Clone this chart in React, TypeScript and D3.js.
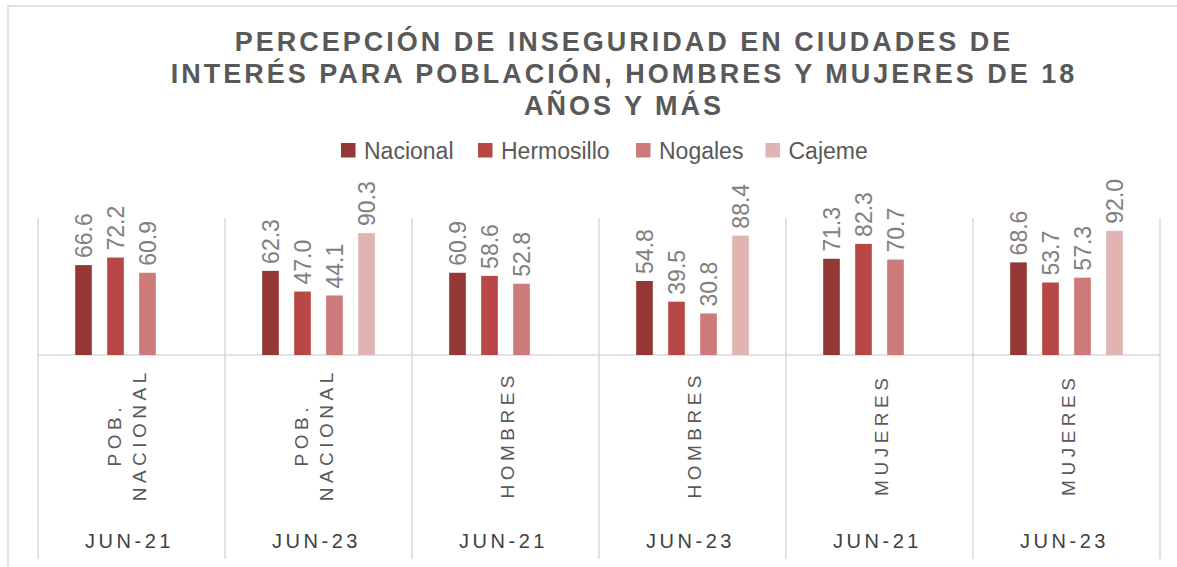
import React from "react";
import * as d3 from "d3";

const groups = ["JUN-21", "JUN-23", "JUN-21", "JUN-23", "JUN-21", "JUN-23"];
const subLabels: string[][] = [
  ["POB.", "NACIONAL"],
  ["POB.", "NACIONAL"],
  ["HOMBRES"],
  ["HOMBRES"],
  ["MUJERES"],
  ["MUJERES"],
];
const seriesNames = ["Nacional", "Hermosillo", "Nogales", "Cajeme"];
const nacional = [66.6, 62.3, 60.9, 54.8, 71.3, 68.6];
const hermosillo = [72.2, 47.0, 58.6, 39.5, 82.3, 53.7];
const nogales = [60.9, 44.1, 52.8, 30.8, 70.7, 57.3];
const cajeme: (number | null)[] = [null, 90.3, null, 88.4, null, 92.0];
const colors = ["#953735", "#B84745", "#CD7B7A", "#E0B4B3"];
const titleLines = [
  "PERCEPCIÓN DE INSEGURIDAD EN CIUDADES DE",
  "INTERÉS PARA POBLACIÓN, HOMBRES Y MUJERES DE 18",
  "AÑOS Y MÁS",
];

const W = 1177;
const H = 567;
const font = "'Liberation Sans', Arial, sans-serif";

export default function App() {
  const series = [nacional, hermosillo, nogales, cajeme];
  const idx = d3.range(groups.length);
  const x0 = d3.scaleBand<number>().domain(idx).range([38, 1160]).padding(0);
  const x1 = d3
    .scaleBand<number>()
    .domain(d3.range(4))
    .range([x0.bandwidth() / 2 - 64, x0.bandwidth() / 2 + 64])
    .paddingInner(0.48)
    .paddingOuter(0.24);
  const y = d3.scaleLinear().domain([0, 100]).range([355, 220]);
  const bw = x1.bandwidth();

  const legendX = [341, 478, 636, 765.5];
  const catLs = 4.5;

  return (
    <svg
      width={W}
      height={H}
      style={{ position: "absolute", left: 0, top: 0, background: "#fff" }}
      fontFamily={font}
    >
      <rect x={0} y={0} width={W} height={H} fill="#fff" />
      <rect x={8} y={6} width={1300} height={700} fill="none" stroke="#d9d9d9" strokeWidth={1.5} />
      {titleLines.map((t, i) => (
        <text
          key={i}
          x={624}
          y={51 + i * 32}
          textAnchor="middle"
          fontSize={27}
          fontWeight="bold"
          letterSpacing={3}
          fill="#595959"
        >
          {t}
        </text>
      ))}
      {seriesNames.map((s, i) => (
        <g key={s}>
          <rect x={legendX[i]} y={143} width={14.5} height={14.5} fill={colors[i]} />
          <text x={legendX[i] + 23} y={159} fontSize={23} fill="#595959">
            {s}
          </text>
        </g>
      ))}
      {d3.range(groups.length + 1).map((i) => {
        const xx = 38 + i * x0.bandwidth();
        return <line key={i} x1={xx} x2={xx} y1={218} y2={559} stroke="#d9d9d9" strokeWidth={1.5} />;
      })}
      <line x1={38} x2={1160} y1={355} y2={355} stroke="#d9d9d9" strokeWidth={1.5} />
      {idx.map((g) => (
        <g key={g} transform={`translate(${x0(g)},0)`}>
          {series.map((ser, si) => {
            const v = ser[g];
            if (v == null) return null;
            const bx = x1(si)!;
            return (
              <g key={si}>
                <rect x={bx} y={y(v)} width={bw} height={y(0) - y(v)} fill={colors[si]} />
                <text
                  transform={`translate(${bx + bw / 2 + 8.5},${y(v) - 7}) rotate(-90)`}
                  fontSize={23}
                  fill="#808080"
                >
                  {v.toFixed(1)}
                </text>
              </g>
            );
          })}
          {subLabels[g].map((s, li) => {
            const n = subLabels[g].length;
            const cx = n === 1 ? x0.bandwidth() / 2 + 8 : x0.bandwidth() / 2 - 10.5 + li * 25;
            return (
              <text
                key={li}
                transform={`translate(${cx},${437 - catLs / 2}) rotate(-90)`}
                textAnchor="middle"
                fontSize={19}
                letterSpacing={catLs}
                fill="#595959"
              >
                {s}
              </text>
            );
          })}
          <text
            x={x0.bandwidth() / 2 - 2}
            y={548}
            textAnchor="middle"
            fontSize={20}
            letterSpacing={3.5}
            fill="#404040"
          >
            {groups[g]}
          </text>
        </g>
      ))}
    </svg>
  );
}
